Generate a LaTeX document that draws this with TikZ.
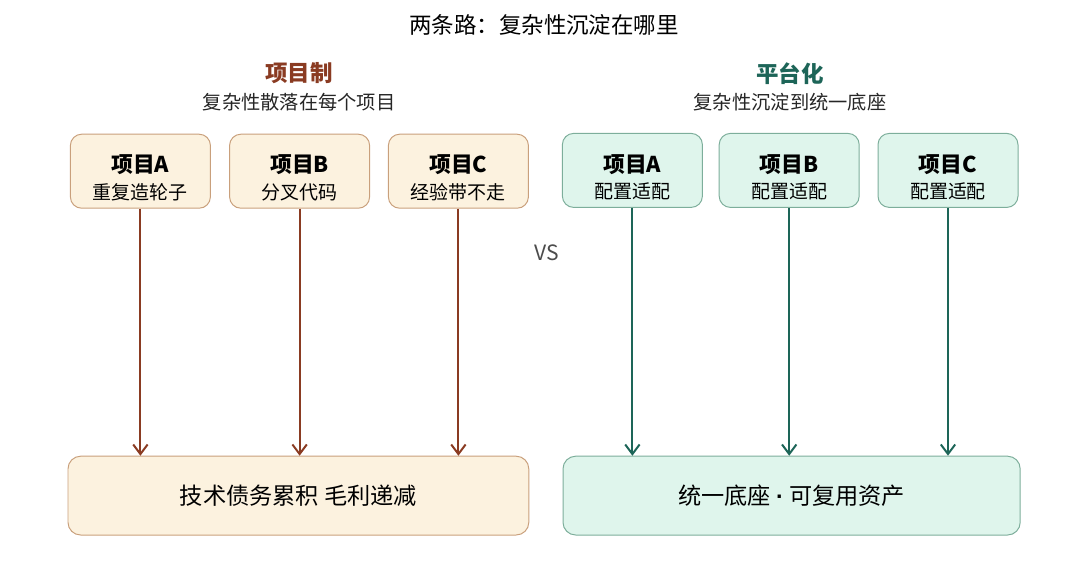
\documentclass[tikz,border=0pt]{standalone}
\usepackage{fontspec}
\setmainfont{Noto Sans CJK SC}
\newfontfamily\latinfont{Liberation Sans}
\usetikzlibrary{arrows.meta}

\definecolor{rustline}{HTML}{8A3B22}
\definecolor{rustfill}{HTML}{FCF2DF}
\definecolor{rustedge}{HTML}{C9A07C}
\definecolor{tealline}{HTML}{1D6558}
\definecolor{tealfill}{HTML}{DFF5EC}
\definecolor{tealedge}{HTML}{7DAE9B}

\newcommand{\topline}[1]{{\fontsize{15.5}{19}\selectfont\rule{0pt}{1.45em}\textbf{#1}}}

\tikzset{
    projbox/.style={draw, line width=0.7pt, rounded corners=8pt, minimum width=3.5cm, minimum height=1.85cm, align=center, font=\fontsize{13.5}{19}\selectfont},
    basebox/.style={draw, line width=0.7pt, rounded corners=9pt, minimum height=1.97cm, font=\fontsize{16.5}{19}\selectfont},
    oldbox/.style={fill=rustfill, draw=rustedge},
    newbox/.style={fill=tealfill, draw=tealedge},
    oldarrow/.style={draw=rustline, line width=1.4pt, -{Straight Barb[length=2.4mm,width=3.6mm,line width=1.4pt]}},
    newarrow/.style={draw=tealline, line width=1.4pt, -{Straight Barb[length=2.4mm,width=3.6mm,line width=1.4pt]}},
    heading/.style={font=\fontsize{16}{19}\selectfont\bfseries},
    subhead/.style={font=\fontsize{13.7}{16}\selectfont, text=black!85}
}

\begin{document}
\begin{tikzpicture}
    \useasboundingbox (0,0) rectangle (26.625,-14.375);

    \node (title) at (13.6,-0.63) {\fontsize{16}{19}\selectfont 两条路：复杂性沉淀在哪里};

    % left side
    \node[heading, text=rustline] (lhead) at (7.48,-1.83) {项目制};
    \node[subhead] (lsub) at (7.48,-2.56) {复杂性散落在每个项目};
    \node[projbox, oldbox] (la) at (3.51,-4.28) {\topline{项目A}\\重复造轮子};
    \node[projbox, oldbox] (lb) at (7.49,-4.28) {\topline{项目B}\\分叉代码};
    \node[projbox, oldbox] (lc) at (11.46,-4.28) {\topline{项目C}\\经验带不走};
    \node[basebox, oldbox, minimum width=11.52cm] (lbase) at (7.46,-12.39) {技术债务累积 毛利递减};
    \draw[oldarrow] (la) -- (la |- lbase.north);
    \draw[oldarrow] (lb) -- (lb |- lbase.north);
    \draw[oldarrow] (lc) -- (lc |- lbase.north);

    \node[text=black!70, font=\fontsize{15}{17}\selectfont] (vs) at (13.68,-6.33) {VS};

    % right side
    \node[heading, text=tealline] (rhead) at (19.75,-1.83) {平台化};
    \node[subhead] (rsub) at (19.75,-2.56) {复杂性沉淀到统一底座};
    \node[projbox, newbox] (ra) at (15.81,-4.26) {\topline{项目A}\\配置适配};
    \node[projbox, newbox] (rb) at (19.73,-4.26) {\topline{项目B}\\配置适配};
    \node[projbox, newbox] (rc) at (23.70,-4.26) {\topline{项目C}\\配置适配};
    \node[basebox, newbox, minimum width=11.43cm] (rbase) at (19.79,-12.39) {统一底座 {\latinfont\textbf{·}} 可复用资产};
    \draw[newarrow] (ra) -- (ra |- rbase.north);
    \draw[newarrow] (rb) -- (rb |- rbase.north);
    \draw[newarrow] (rc) -- (rc |- rbase.north);
\end{tikzpicture}
\end{document}
